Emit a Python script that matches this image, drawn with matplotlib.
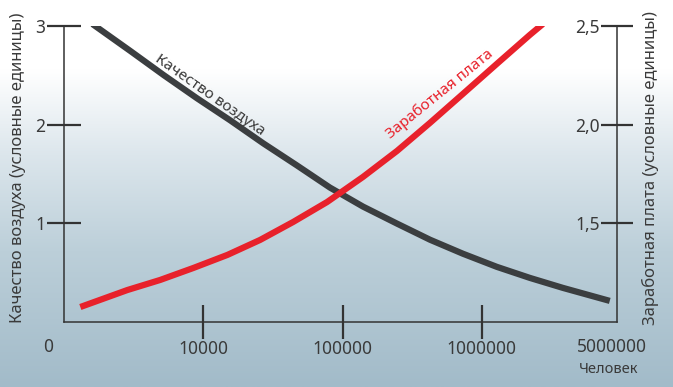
import numpy as np
import matplotlib
matplotlib.use("Agg")
import matplotlib.pyplot as plt
from matplotlib.colors import LinearSegmentedColormap

plt.rcParams['font.family'] = ['Noto Sans', 'DejaVu Sans']

# --- data ---
air_people = [1600, 3000, 5200, 9000, 15600, 27000, 47000, 81000, 140000,
              246000, 424000, 731000, 1280000, 2210000, 3810000, 8280000]
air_quality = [3.02, 2.746, 2.502, 2.268, 2.044, 1.810, 1.587, 1.363, 1.170,
               0.997, 0.834, 0.692, 0.559, 0.447, 0.346, 0.214]

wage_people = [1310, 2850, 4900, 8500, 14900, 25600, 44200, 77400, 140000,
               246000, 424000, 731000, 1280000, 2210000, 2740000]
wage = [1.076, 1.162, 1.213, 1.274, 1.340, 1.416, 1.507, 1.608, 1.735,
        1.867, 2.009, 2.156, 2.308, 2.455, 2.510]

x_ticks = [10000, 100000, 1000000]
x_ticklabels = ['10000', '100000', '1000000']
left_ticks = [1, 2, 3]
left_ticklabels = ['1', '2', '3']
right_ticks = [1.5, 2.0, 2.5]
right_ticklabels = ['1,5', '2,0', '2,5']

TEXT = '#3a3a3a'
BLACK = '#3b3e40'
RED = '#e8212b'
AX = '#333333'

fig = plt.figure(figsize=(6.73, 3.87), dpi=100)

# background gradient
bg = fig.add_axes([0, 0, 1, 1], zorder=0)
cmap = LinearSegmentedColormap.from_list(
    'bg', [(0.0, '#ffffff'), (0.18, '#ffffff'), (0.40, '#dce6ec'),
           (0.65, '#bccfd9'), (1.0, '#a2bbc9')])
grad = np.linspace(0, 1, 256).reshape(-1, 1)
bg.imshow(grad, aspect='auto', cmap=cmap, extent=[0, 1, 0, 1], origin='upper')
bg.set_xlim(0, 1); bg.set_ylim(0, 1)
bg.axis('off')

left, right, bottom, top = 64/673, 617/673, (387-322)/387, (387-26)/387
ax = fig.add_axes([left, bottom, right-left, top-bottom], zorder=1)
ax.patch.set_visible(False)
ax.set_xscale('log')
ax.set_xlim(1000, 10**6.97)
ax.set_ylim(0, 3.0)

ax2 = ax.twinx()
ax2.set_zorder(2)
ax2.patch.set_visible(False)
ax2.set_ylim(1.0, 2.5)

ax.plot(air_people, air_quality, color=BLACK, lw=4.5, solid_capstyle='butt',
        solid_joinstyle='round', zorder=3)
ax2.plot(wage_people, wage, color=RED, lw=4.5, solid_capstyle='butt',
         solid_joinstyle='round', zorder=3)

for a in (ax, ax2):
    for s in a.spines.values():
        s.set_visible(False)

ax.spines['left'].set_visible(True)
ax.spines['bottom'].set_visible(True)
ax.spines['left'].set_color(AX); ax.spines['bottom'].set_color(AX)
ax.spines['left'].set_linewidth(1.1); ax.spines['bottom'].set_linewidth(1.1)

ax.set_xticks(x_ticks)
ax.set_xticklabels(x_ticklabels)
ax.xaxis.set_minor_locator(matplotlib.ticker.NullLocator())
ax.set_yticks(left_ticks)
ax.set_yticklabels(left_ticklabels)
ax.tick_params(axis='x', direction='inout', length=24, width=1.6, color=AX,
               labelsize=12.5, labelcolor=TEXT, pad=1)
ax.tick_params(axis='y', direction='inout', length=25, width=1.6, color=AX,
               labelsize=12.5, labelcolor=TEXT, pad=1)

# right axis: spine at right edge, labels on its inner (left) side
ax2.spines['left'].set_visible(True)
ax2.spines['left'].set_position(('axes', 1.0))
ax2.spines['left'].set_color(AX)
ax2.spines['left'].set_linewidth(1.1)
ax2.yaxis.set_ticks_position('left')
ax2.set_yticks(right_ticks)
ax2.set_yticklabels(right_ticklabels)
ax2.tick_params(axis='y', direction='inout', length=23, width=1.6, color=AX,
                labelsize=12.5, labelcolor=TEXT, pad=1, right=False, labelright=False,
                left=True, labelleft=True)

ax.set_ylabel('Качество воздуха (условные единицы)', fontsize=12, color=TEXT)
ax.yaxis.set_label_coords(-0.068, 0.52)
ax2.yaxis.set_label_position('right')
ax2.set_ylabel('Заработная плата (условные единицы)', fontsize=12, color=TEXT,
               rotation=90)
ax2.yaxis.set_label_coords(1.045, 0.52)

# extra x-axis labels
ax.text(-0.029, -0.085, '0', transform=ax.transAxes, ha='center', va='center',
        fontsize=12.5, color=TEXT)
ax.text(0.991, -0.085, '5000000', transform=ax.transAxes, ha='center', va='center',
        fontsize=12.5, color=TEXT)
ax.text(0.985, -0.162, 'Человек', transform=ax.transAxes, ha='center', va='center',
        fontsize=10.5, color=TEXT)

# curve labels
ax.text(11200, 2.30, 'Качество воздуха', rotation=-35, ha='center', va='center',
        fontsize=11, color=TEXT, rotation_mode='anchor')
ax2.text(540000, 2.125, 'Заработная плата', rotation=39, ha='center', va='bottom',
         fontsize=11, color=RED, rotation_mode='anchor')

fig.savefig('out.png', dpi=100)
